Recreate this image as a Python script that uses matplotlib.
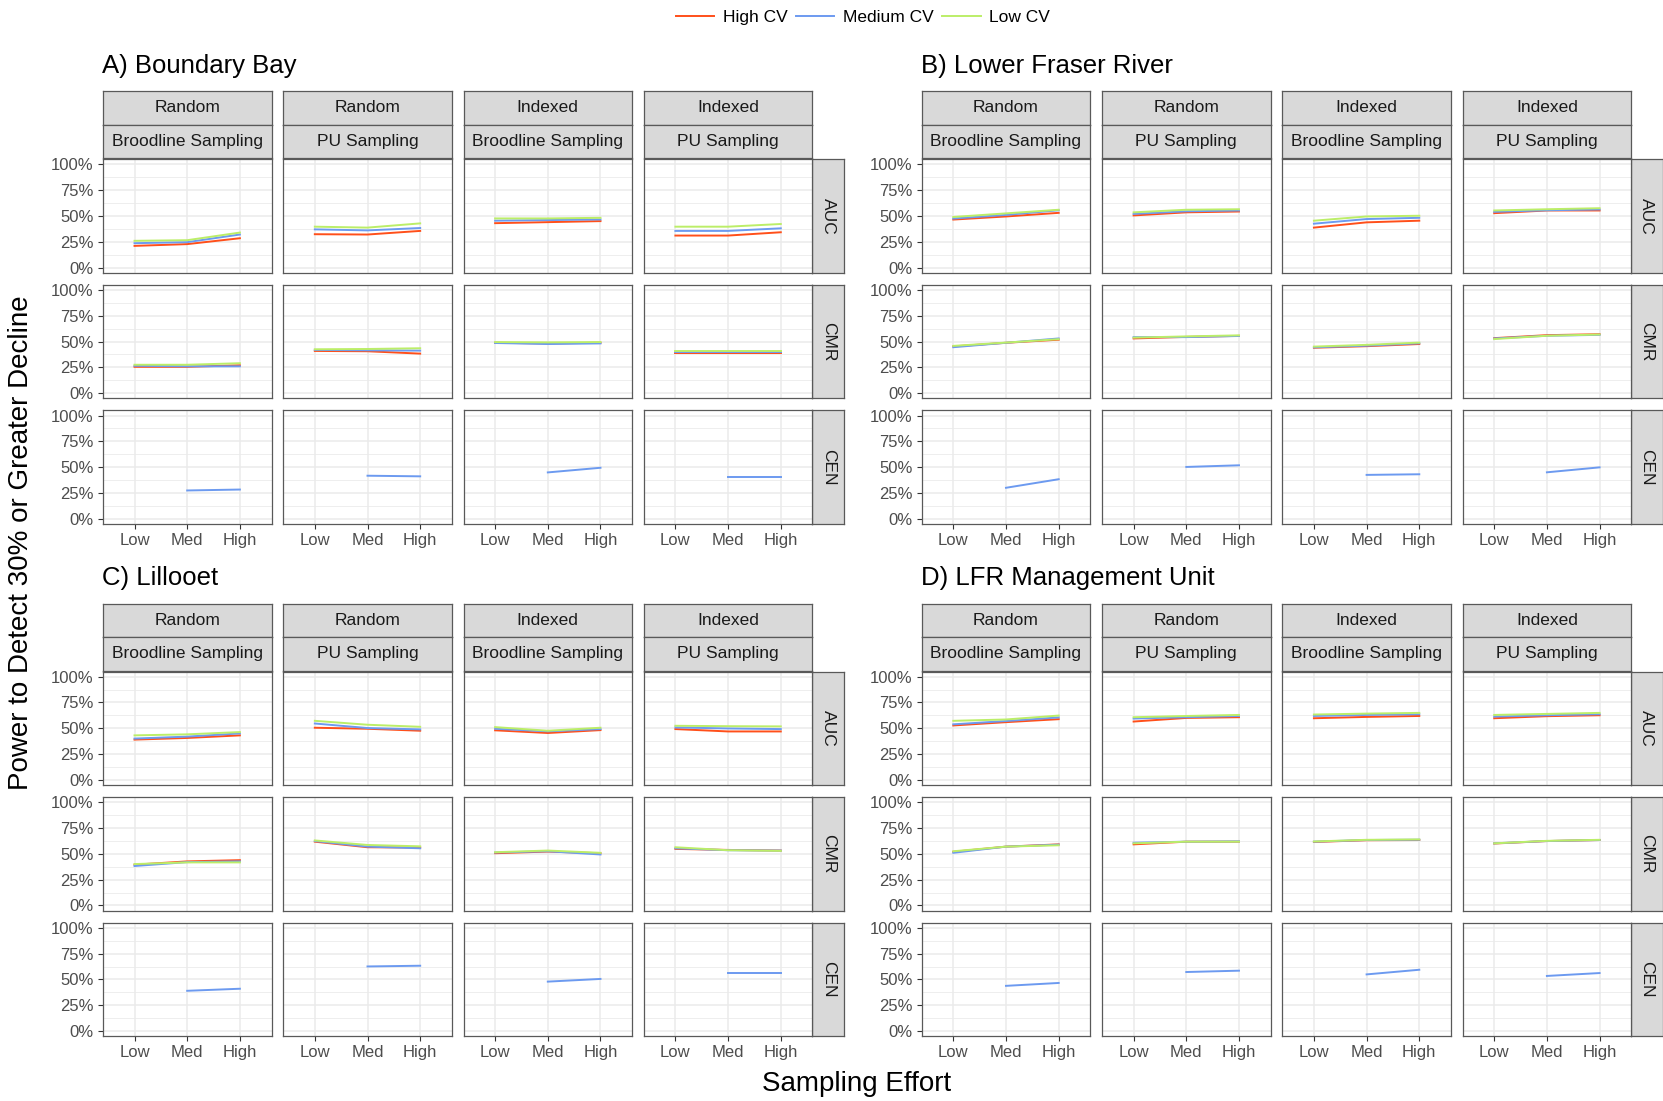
import numpy as np
import matplotlib
matplotlib.use("Agg")
import matplotlib.pyplot as plt
from matplotlib.lines import Line2D

plt.rcParams['font.family'] = ['Liberation Sans', 'DejaVu Sans']

efforts = ["Low", "Med", "High"]
cv_levels = ["High CV", "Medium CV", "Low CV"]
cv_colors = ["#FF4F1A", "#6C9AF0", "#BCEE68"]
designs = [("Random", "Broodline Sampling"), ("Random", "PU Sampling"),
           ("Indexed", "Broodline Sampling"), ("Indexed", "PU Sampling")]
metrics = ["AUC", "CMR", "CEN"]
regions = ["A) Boundary Bay", "B) Lower Fraser River",
           "C) Lillooet", "D) LFR Management Unit"]
nan = np.nan

# power (%) by CV level -> design -> effort (Low, Med, High)
bb_auc = [[[21, 22.7, 28.4], [32.3, 32, 35.5], [43, 44, 45], [31, 31, 34.2]],
          [[23.6, 24.6, 32], [37, 36, 38.3], [45.4, 46, 46.6], [35.5, 35.5, 38]],
          [[25.9, 26.5, 33.9], [39.6, 38.7, 42.8], [47.6, 47.6, 48.2], [39.6, 39.6, 42.2]]]
bb_cmr = [[[25.5, 25.5, 27], [40.9, 40.6, 38.3], [48.8, 48.2, 48.8], [38.7, 38.7, 38.7]],
          [[26.5, 26, 26], [41.9, 41.5, 41.2], [48.6, 47.6, 48.2], [39.5, 39.5, 39.5]],
          [[27.5, 27.5, 29], [42.5, 42.8, 43.5], [49.5, 49.2, 49.5], [40.9, 40.9, 40.9]]]
bb_cen = [[nan, 27.4, 28.3], [nan, 41.7, 41.1], [nan, 44.9, 49.4], [nan, 40.1, 40.1]]

lfr_auc = [[[46.5, 49.5, 53], [50.5, 53.5, 54.3], [38.7, 43.8, 45.4], [52.7, 55.3, 55.3]],
           [[47.5, 51, 55.5], [52, 54.5, 55.3], [42.5, 47, 48.2], [54, 55.5, 56.3]],
           [[49, 52.5, 56], [53.5, 56, 56.5], [45.4, 49.5, 50.2], [55.3, 56.5, 57.5]]]
lfr_cmr = [[[45.3, 48.8, 51.8], [53, 54.5, 55.5], [44, 45.5, 47.6], [53.3, 56.2, 57.1]],
           [[44.5, 48.8, 53], [54.3, 54.3, 55.4], [44.4, 46, 48.3], [53, 55.6, 56.5]],
           [[45.8, 49, 52.3], [53.8, 55, 56], [45.1, 46.8, 49], [52.4, 55.6, 56.8]]]
lfr_cen = [[nan, 30, 38.3], [nan, 50.2, 51.8], [nan, 42.5, 43.1], [nan, 45, 49.8]]

lil_auc = [[[39, 40.6, 43.1], [50.5, 49.5, 47.6], [48, 45.4, 48.2], [49.2, 46.9, 46.9]],
           [[40, 41.9, 45], [54.6, 50.2, 48.9], [49.5, 47, 49.2], [50.8, 49.8, 49.2]],
           [[43.1, 44.1, 46.3], [57.2, 53.4, 51.4], [51.1, 47.6, 50.5], [52.4, 52, 51.8]]]
lil_cmr = [[[39.5, 42.7, 43.9], [61.8, 56.4, 56.1], [50.6, 52.2, 50.6], [54.8, 53.8, 53.2]],
           [[38.2, 42, 42.7], [62.4, 57, 55.4], [51.3, 52.5, 49.4], [55.4, 53.5, 53.2]],
           [[40.1, 41.7, 41.7], [63, 58.6, 57.3], [51.6, 53.2, 51], [56.4, 53.5, 52.9]]]
lil_cen = [[nan, 39, 41], [nan, 62.6, 63.3], [nan, 47.9, 50.5], [nan, 56.2, 56.2]]

mu_auc = [[[52.7, 55.9, 58.8], [56.5, 60, 60.7], [59.7, 61, 61.9], [59.7, 61.7, 62.6]],
          [[53.8, 57, 60.5], [59.4, 60.7, 61.9], [61.9, 62.9, 63.6], [61.3, 62.6, 63.6]],
          [[57.2, 58.5, 62.3], [60.7, 61.9, 62.9], [63.3, 64.2, 64.9], [62.9, 63.9, 64.9]]]
mu_cmr = [[[52, 57, 59.2], [59.2, 61.8, 61.8], [61.5, 63.2, 63.4], [60, 62.4, 63.4]],
          [[51, 57, 58.9], [60.8, 61.8, 62.1], [61.8, 63.4, 63.7], [60.2, 62.4, 63.4]],
          [[52.5, 57, 58.3], [60.2, 61.8, 61.8], [62, 63.6, 64], [60.2, 62.6, 63.6]]]
mu_cen = [[nan, 43.8, 46.6], [nan, 57.2, 58.5], [nan, 54.9, 59.4], [nan, 53.4, 56.2]]

region_data = [(bb_auc, bb_cmr, bb_cen), (lfr_auc, lfr_cmr, lfr_cen),
               (lil_auc, lil_cmr, lil_cen), (mu_auc, mu_cmr, mu_cen)]

W, H = 1663, 1101
fig = plt.figure(figsize=(W / 100, H / 100), dpi=100)

# layout in pixels
left_x = [102.9, 921.7]
top_y = [91.2, 603.5]
col_step, panel_w = 180.3, 168.6
strip_h = 33.5
row_step, panel_h = 125.6, 113.5
rstrip_w = 31.5
edge = "#595959"
grid = "#EBEBEB"


def px_axes(x, y, w, h):
    return fig.add_axes([x / W, 1 - (y + h) / H, w / W, h / H])


def strip(x, y, w, h, text, rot=0):
    s = px_axes(x, y, w, h)
    s.set_facecolor("#D9D9D9")
    s.set_xticks([])
    s.set_yticks([])
    for sp in s.spines.values():
        sp.set_color(edge)
        sp.set_linewidth(0.9)
    s.text(0.5, 0.5, text, ha="center", va="center", rotation=rot,
           fontsize=12.5, color="#1A1A1A", transform=s.transAxes)


x = np.arange(3)
for r, title in enumerate(regions):
    x0 = left_x[r % 2]
    y0 = top_y[r // 2]
    fig.text((x0 - 1) / W, 1 - (y0 - 25) / H, title, fontsize=18.5,
             ha="left", va="center", color="black")
    for c, (d1, d2) in enumerate(designs):
        cx = x0 + c * col_step
        strip(cx, y0, panel_w, strip_h, d1)
        strip(cx, y0 + strip_h, panel_w, strip_h, d2)
    py0 = y0 + 2 * strip_h + 1
    for m, metric in enumerate(metrics):
        py = py0 + m * row_step
        strip(x0 + 3 * col_step + panel_w, py, rstrip_w, panel_h, metric, rot=-90)
        vals = region_data[r][m]
        for c in range(4):
            ax = px_axes(x0 + c * col_step, py, panel_w, panel_h)
            ax.set_xlim(-0.6, 2.6)
            ax.set_ylim(-5, 105)
            ax.set_yticks([0, 25, 50, 75, 100])
            ax.set_yticks([12.5, 37.5, 62.5, 87.5], minor=True)
            ax.set_xticks(x)
            ax.grid(True, which="major", color=grid, lw=1.1)
            ax.grid(True, which="minor", axis="y", color=grid, lw=0.6)
            ax.set_axisbelow(True)
            for sp in ax.spines.values():
                sp.set_color(edge)
                sp.set_linewidth(0.9)
            ax.tick_params(which="minor", length=0)
            ax.tick_params(which="major", length=3.5, width=0.8, color="#333333",
                           labelsize=12, labelcolor="#4D4D4D", pad=3)
            if c == 0:
                ax.set_yticklabels(["0%", "25%", "50%", "75%", "100%"])
            else:
                ax.tick_params(axis="y", length=0, labelleft=False)
            if m == 2:
                ax.set_xticklabels(efforts)
                ax.plot(x, vals[c], color=cv_colors[1], lw=1.4)
            else:
                ax.tick_params(axis="x", length=0, labelbottom=False)
                for k in range(3):
                    ax.plot(x, vals[k][c], color=cv_colors[k], lw=1.4)

handles = [Line2D([], [], color=col, lw=1.4) for col in cv_colors]
fig.legend(handles, cv_levels, loc="center", bbox_to_anchor=(863 / W, 1 - 17 / H),
           ncol=3, frameon=False, fontsize=12.5, handlelength=2.2,
           handletextpad=0.5, columnspacing=0.5)

fig.text(21 / W, 1 - 543 / H, "Power to Detect 30% or Greater Decline",
         rotation=90, ha="center", va="center", fontsize=20)
fig.text(857 / W, 1 - 1084 / H, "Sampling Effort", ha="center", va="center",
         fontsize=20)

fig.savefig("out.png", dpi=100, facecolor="white")
